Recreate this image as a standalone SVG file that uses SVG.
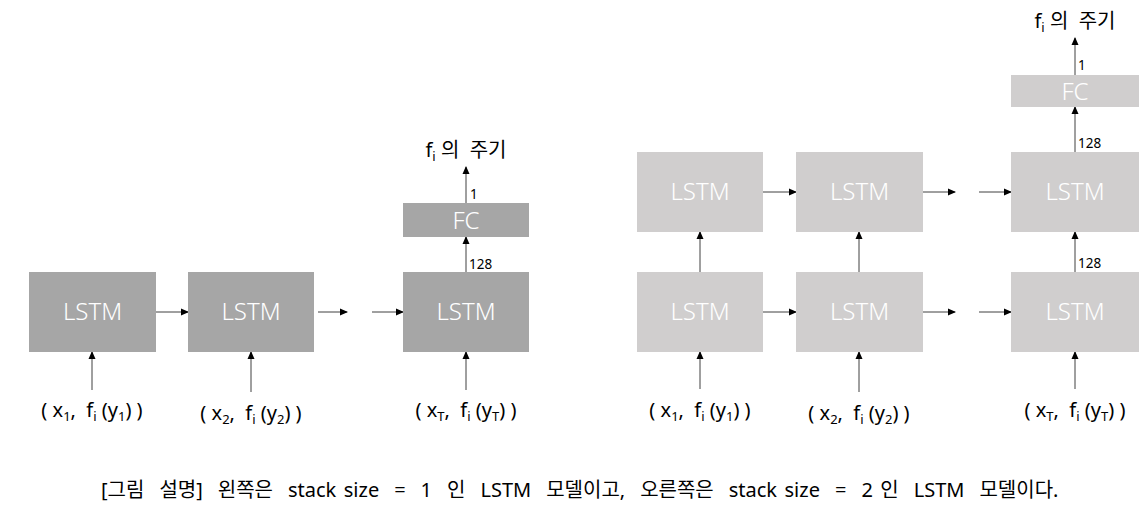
<svg xmlns="http://www.w3.org/2000/svg" width="1144" height="506" viewBox="0 0 1144 506">
<defs>
<marker id="ah" markerWidth="8" markerHeight="8" refX="7" refY="4" orient="auto" markerUnits="userSpaceOnUse">
<path d="M0,0.5 L8,4 L0,7.5 Z" fill="#000"/>
</marker>
<style>
.dk{fill:#A6A6A6}
.lt{fill:#D0CECE}
.bt{font-family:"Noto Sans","Noto Sans CJK KR",sans-serif;font-weight:300;font-size:24px;fill:#fff;text-anchor:middle}
.ln{stroke:#404040;stroke-width:1;fill:none;marker-end:url(#ah)}
.lb{font-family:"Noto Sans","Noto Sans CJK KR",sans-serif;font-size:20px;fill:#000;text-anchor:middle}
.sm{font-family:"Noto Sans",sans-serif;font-size:13.5px;fill:#000}
.cap{font-family:"Noto Sans","Noto Sans CJK KR",sans-serif;font-size:20px;fill:#000;word-spacing:2.3px}
.sub{font-size:13px}
</style>
</defs>
<rect width="1144" height="506" fill="#fff"/>

<g id="connectors">
<line class="ln" x1="156" y1="312" x2="188" y2="312"/>
<line class="ln" x1="318" y1="312" x2="347" y2="312"/>
<line class="ln" x1="372" y1="312" x2="403" y2="312"/>
<line class="ln" x1="92" y1="390" x2="92" y2="352"/>
<line class="ln" x1="251" y1="392" x2="251" y2="352"/>
<line class="ln" x1="466" y1="390" x2="466" y2="352"/>
<line class="ln" x1="466" y1="272" x2="466" y2="237"/>
<line class="ln" x1="466" y1="203" x2="466" y2="167"/>

<line class="ln" x1="763" y1="192" x2="796" y2="192"/>
<line class="ln" x1="763" y1="312" x2="796" y2="312"/>
<line class="ln" x1="923" y1="192" x2="955" y2="192"/>
<line class="ln" x1="923" y1="312" x2="955" y2="312"/>
<line class="ln" x1="979" y1="192" x2="1011" y2="192"/>
<line class="ln" x1="979" y1="312" x2="1011" y2="312"/>
<line class="ln" x1="700" y1="272" x2="700" y2="232"/>
<line class="ln" x1="859" y1="272" x2="859" y2="232"/>
<line class="ln" x1="1075" y1="272" x2="1075" y2="232"/>
<line class="ln" x1="700" y1="389" x2="700" y2="352"/>
<line class="ln" x1="859" y1="392" x2="859" y2="352"/>
<line class="ln" x1="1075" y1="389" x2="1075" y2="352"/>
<line class="ln" x1="1075" y1="152" x2="1075" y2="107"/>
<line class="ln" x1="1075" y1="75" x2="1075" y2="38"/>
</g>

<g id="edge-labels">
<text class="sm" x="469" y="269">128</text>
<text class="sm" x="470" y="199">1</text>
<text class="sm" x="1078" y="148">128</text>
<text class="sm" x="1078" y="268">128</text>
<text class="sm" x="1078" y="70">1</text>
</g>

<g id="left-lstm1"><rect class="dk" x="29" y="272" width="127" height="80"/><text class="bt" x="92.5" y="320">LSTM</text></g>
<g id="left-lstm2"><rect class="dk" x="188" y="272" width="126" height="80"/><text class="bt" x="251" y="320">LSTM</text></g>
<g id="left-lstm3"><rect class="dk" x="403" y="272" width="126" height="80"/><text class="bt" x="466" y="320">LSTM</text></g>
<g id="left-fc"><rect class="dk" x="403" y="203" width="126" height="34"/><text class="bt" x="466" y="229">FC</text></g>

<g id="right-top1"><rect class="lt" x="637" y="152" width="126" height="80"/><text class="bt" x="700" y="200">LSTM</text></g>
<g id="right-bot1"><rect class="lt" x="637" y="272" width="126" height="80"/><text class="bt" x="700" y="320">LSTM</text></g>
<g id="right-top2"><rect class="lt" x="796" y="152" width="127" height="80"/><text class="bt" x="859.5" y="200">LSTM</text></g>
<g id="right-bot2"><rect class="lt" x="796" y="272" width="127" height="80"/><text class="bt" x="859.5" y="320">LSTM</text></g>
<g id="right-top3"><rect class="lt" x="1011" y="152" width="128" height="80"/><text class="bt" x="1075" y="200">LSTM</text></g>
<g id="right-bot3"><rect class="lt" x="1011" y="272" width="128" height="80"/><text class="bt" x="1075" y="320">LSTM</text></g>
<g id="right-fc"><rect class="lt" x="1011" y="75" width="128" height="32"/><text class="bt" x="1075" y="99.5">FC</text></g>

<g id="outputs">
<text class="lb" x="466" y="157" xml:space="preserve">f<tspan class="sub" dy="4">i</tspan><tspan dy="-4"> 의  주기</tspan></text>
<text class="lb" x="1075" y="28" xml:space="preserve">f<tspan class="sub" dy="4">i</tspan><tspan dy="-4"> 의  주기</tspan></text>
</g>

<g id="inputs">
<text class="lb" x="92" y="417" xml:space="preserve">( x<tspan class="sub" dy="4">1</tspan><tspan dy="-4">,  f</tspan><tspan class="sub" dy="4">i</tspan><tspan dy="-4"> (y</tspan><tspan class="sub" dy="4">1</tspan><tspan dy="-4">) )</tspan></text>
<text class="lb" x="251" y="420" xml:space="preserve">( x<tspan class="sub" dy="4">2</tspan><tspan dy="-4">,  f</tspan><tspan class="sub" dy="4">i</tspan><tspan dy="-4"> (y</tspan><tspan class="sub" dy="4">2</tspan><tspan dy="-4">) )</tspan></text>
<text class="lb" x="466" y="417" xml:space="preserve">( x<tspan class="sub" dy="4">T</tspan><tspan dy="-4">,  f</tspan><tspan class="sub" dy="4">i</tspan><tspan dy="-4"> (y</tspan><tspan class="sub" dy="4">T</tspan><tspan dy="-4">) )</tspan></text>
<text class="lb" x="700" y="417" xml:space="preserve">( x<tspan class="sub" dy="4">1</tspan><tspan dy="-4">,  f</tspan><tspan class="sub" dy="4">i</tspan><tspan dy="-4"> (y</tspan><tspan class="sub" dy="4">1</tspan><tspan dy="-4">) )</tspan></text>
<text class="lb" x="859" y="420" xml:space="preserve">( x<tspan class="sub" dy="4">2</tspan><tspan dy="-4">,  f</tspan><tspan class="sub" dy="4">i</tspan><tspan dy="-4"> (y</tspan><tspan class="sub" dy="4">2</tspan><tspan dy="-4">) )</tspan></text>
<text class="lb" x="1075" y="417" xml:space="preserve">( x<tspan class="sub" dy="4">T</tspan><tspan dy="-4">,  f</tspan><tspan class="sub" dy="4">i</tspan><tspan dy="-4"> (y</tspan><tspan class="sub" dy="4">T</tspan><tspan dy="-4">) )</tspan></text>
</g>

<g id="caption">
<text class="cap" x="101" y="497" xml:space="preserve">[그림  설명]  왼쪽은  stack size  =  1  인  LSTM  모델이고,  오른쪽은  stack size  =  2 인  LSTM  모델이다.</text>
</g>
</svg>
